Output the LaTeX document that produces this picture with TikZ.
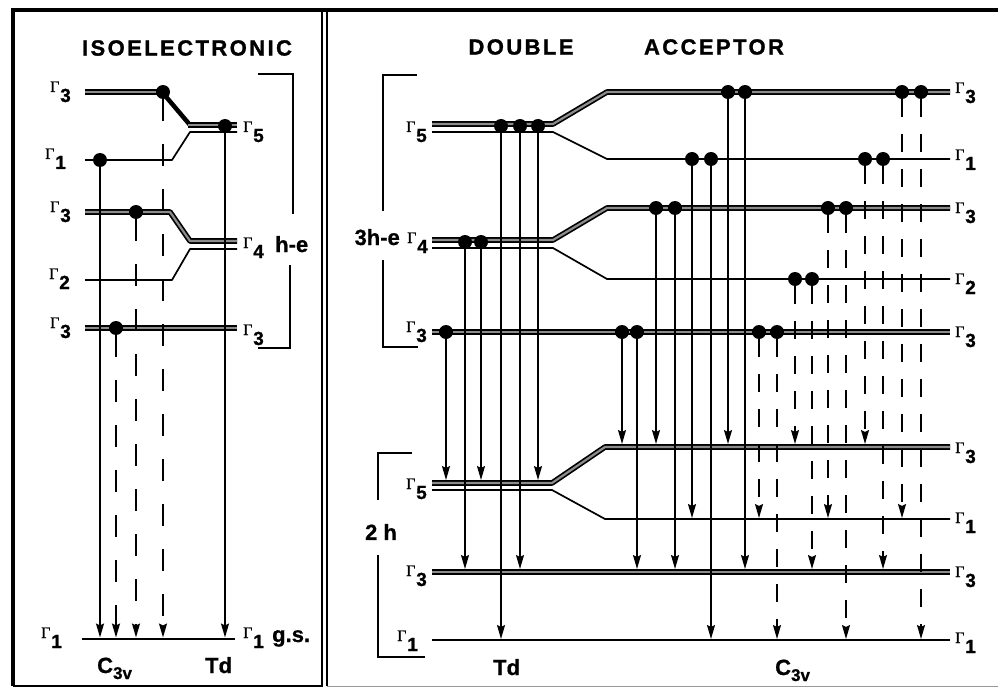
\documentclass[tikz,border=0pt]{standalone}
\usepackage{fontspec}
\setmainfont{Liberation Sans}
\newfontfamily\gfont[FakeBold=0.5]{Liberation Serif}
\newfontfamily\ttlfont[LetterSpace=11,FakeBold=1.2]{Liberation Sans Bold}
\newfontfamily\bfont[FakeBold=0.8]{Liberation Sans Bold}
\usetikzlibrary{arrows.meta}
\newcommand\G[1]{{\gfont\mdseries\fontsize{16}{16}\selectfont Γ}\kern0.8pt\raisebox{-10pt}{\bfont\fontsize{19}{19}\selectfont #1}}
\newcommand\Cthv{C\raisebox{-6pt}{\fontsize{17}{17}\selectfont 3v}}
\tikzset{
  lvl/.style={line width=1.7pt, line join=round},
  dlvl/.style={line width=1.7pt, double=black!45, double distance=2.2pt, line join=round},
  tr/.style={line width=1.5pt, -{Stealth[length=14pt,width=8pt,inset=2pt]}},
  dtrL/.style={tr, dash pattern=on 22pt off 23pt},
  dtrR/.style={tr, dash pattern=on 18pt off 17pt},
  dot/.style={circle, fill, inner sep=0pt, minimum size=14pt},
  labL/.style={inner sep=0pt, anchor=base east},
  labR/.style={inner sep=0pt, anchor=base west},
  txt/.style={inner sep=0pt, font=\bfont\fontsize{22}{22}\selectfont},
  ttl/.style={inner sep=0pt, font=\ttlfont\fontsize{22}{22}\selectfont},
  frame/.style={line width=4pt},
  brk/.style={line width=1.9pt},
}
\begin{document}
\begin{tikzpicture}[x=1pt,y=-1pt]
\useasboundingbox (0,0) rectangle (998,687);
% ---------- frame ----------
\draw[frame] (11,10) -- (998,10);
\draw[frame] (13,8) -- (13,686);
\draw[line width=2pt] (13,685.5) -- (323,685.5);
\draw[line width=1.6pt] (322,10) -- (322,686);
\draw[line width=1.8pt] (327,10) -- (327,686);
\draw[line width=1pt, black!40] (327,686) -- (998,686);
% ---------- titles ----------
\node[ttl] (t1) at (187,48) {ISOELECTRONIC};
\node[ttl] (t2) at (521,47) {DOUBLE};
\node[ttl] (t3) at (714,47) {ACCEPTOR};
% ---------- left panel levels ----------
\draw[dlvl] (85,92) -- (163,92);
\draw[line width=4.5pt, line join=round] (162,92) -- (190,125);
\draw[dlvl] (188,125) -- (237,125);
\draw[lvl] (85,160) -- (172,160) -- (190,132) -- (237,132);
\draw[dlvl] (85,212) -- (170,212) -- (190,241) -- (237,241);
\draw[lvl] (85,280) -- (172,280) -- (190,249) -- (237,249);
\draw[dlvl] (85,328) -- (237,328);
\draw[lvl] (82,639) -- (235,639);
\coordinate (lG) at (0,637.5);
% bracket
\draw[brk] (258,74) -- (293,74) -- (293,214);
\draw[brk] (290,265) -- (290,348) -- (258,348);
% left labels
\node[labL] (l1) at (71,92) {\G{3}};
\node[labL] (l2) at (66,159) {\G{1}};
\node[labL] (l3) at (71,212) {\G{3}};
\node[labL] (l4) at (70,279) {\G{2}};
\node[labL] (l5) at (71,328) {\G{3}};
\node[labL] (l6) at (62,638) {\G{1}};
\node[labR] (l7) at (243,132) {\G{5}};
\node[labR] (l8) at (243,248) {\G{4}};
\node[txt, anchor=base west] (he1) at (275,252) {h-e};
\node[labR] (l9) at (243,335) {\G{3}};
\node[labR] (l10) at (243,638) {\G{1}};
\node[txt, anchor=base west] (gs) at (272,642) {g.s.};
\node[txt, anchor=base west] (c3vL) at (97,673) {\Cthv};
\node[txt, anchor=base west] (tdL) at (205,673) {Td};
% left dots
\node[dot] (e1) at (100,160) {};
\node[dot] (e2) at (116,328) {};
\node[dot] (e3) at (136,212) {};
\node[dot] (e4) at (163,92) {};
\node[dot] (e5) at (225,126) {};
\draw[tr] (e1) -- (e1 |- lG);
\draw[dtrL] (e2) -- (e2 |- lG);
\draw[dtrL] (e3) -- (e3 |- lG);
\draw[dtrL] (e4) -- (e4 |- lG);
\draw[tr] (e5) -- (e5 |- lG);
% ---------- right panel levels ----------
\draw[dlvl] (432,124) -- (553,124) -- (607,92) -- (950,92);
\draw[lvl] (432,132) -- (553,132) -- (607,159) -- (950,159);
\draw[dlvl] (432,240) -- (553,240) -- (607,208) -- (950,208);
\draw[lvl] (432,248) -- (553,248) -- (607,279) -- (950,279);
\draw[dlvl] (432,332) -- (950,332);
\draw[dlvl] (432,483) -- (552,483) -- (605,447) -- (950,447);
\draw[lvl] (432,490) -- (552,490) -- (605,519) -- (950,519);
\draw[dlvl] (432,572) -- (950,572);
\draw[lvl] (432,640) -- (950,640);
\coordinate (r5) at (0,480);
\coordinate (rU) at (0,444);
\coordinate (r1) at (0,518);
\coordinate (rL) at (0,569);
\coordinate (rG) at (0,639);
% brackets
\draw[brk] (417,75) -- (383,75) -- (383,211);
\draw[brk] (383,260) -- (383,347) -- (418,347);
\draw[brk] (412,453) -- (378,453) -- (378,500);
\draw[brk] (378,555) -- (378,657) -- (425,657);
% right panel labels
\node[labL] (m1) at (427,132) {\G{5}};
\node[labL] (m2) at (428,243) {\G{4}};
\node[txt, anchor=base east] (he3) at (400,245) {3h-e};
\node[labL] (m3) at (427,332) {\G{3}};
\node[labL] (m4) at (427,489) {\G{5}};
\node[txt] (twoh) at (381,532) {2 h};
\node[labL] (m5) at (427,576) {\G{3}};
\node[labL] (m6) at (418,641) {\G{1}};
\node[labR] (n1) at (955,93) {\G{3}};
\node[labR] (n2) at (955,160) {\G{1}};
\node[labR] (n3) at (955,213) {\G{3}};
\node[labR] (n4) at (955,284) {\G{2}};
\node[labR] (n5) at (955,337) {\G{3}};
\node[labR] (n6) at (955,453) {\G{3}};
\node[labR] (n7) at (955,523) {\G{1}};
\node[labR] (n8) at (955,577) {\G{3}};
\node[labR] (n9) at (955,643) {\G{1}};
\node[txt, anchor=base west] (tdR) at (493,675) {Td};
\node[txt, anchor=base west] (c3vR) at (775,675) {\Cthv};
% Td dots
\node[dot] (a1) at (446,332) {};
\node[dot] (a2) at (465,242) {};
\node[dot] (a3) at (481,242) {};
\node[dot] (a4) at (501,126) {};
\node[dot] (a5) at (520,126) {};
\node[dot] (a6) at (538,126) {};
% C3v dots, solid
\node[dot] (b1) at (622,332) {};
\node[dot] (b2) at (637,332) {};
\node[dot] (b3) at (656,208) {};
\node[dot] (b4) at (675,208) {};
\node[dot] (b5) at (692,159) {};
\node[dot] (b6) at (711,159) {};
\node[dot] (b7) at (728,92) {};
\node[dot] (b8) at (745,92) {};
% C3v dots, dashed
\node[dot] (c1) at (759,332) {};
\node[dot] (c2) at (777,332) {};
\node[dot] (c3) at (795,279) {};
\node[dot] (c4) at (812,279) {};
\node[dot] (c5) at (828,208) {};
\node[dot] (c6) at (846,208) {};
\node[dot] (c7) at (865,159) {};
\node[dot] (c8) at (883,159) {};
\node[dot] (c9) at (902,92) {};
\node[dot] (c10) at (921,92) {};
% transitions
\draw[tr] (a1) -- (a1 |- r5);
\draw[tr] (a2) -- (a2 |- rL);
\draw[tr] (a3) -- (a3 |- r5);
\draw[tr] (a4) -- (a4 |- rG);
\draw[tr] (a5) -- (a5 |- rL);
\draw[tr] (a6) -- (a6 |- r5);
\draw[tr] (b1) -- (b1 |- rU);
\draw[tr] (b2) -- (b2 |- rL);
\draw[tr] (b3) -- (b3 |- rU);
\draw[tr] (b4) -- (b4 |- rL);
\draw[tr] (b5) -- (b5 |- r1);
\draw[tr] (b6) -- (b6 |- rG);
\draw[tr] (b7) -- (b7 |- rU);
\draw[tr] (b8) -- (b8 |- rL);
\draw[dtrR] (c1) -- (c1 |- r1);
\draw[dtrR] (c2) -- (c2 |- rG);
\draw[dtrR] (c3) -- (c3 |- rU);
\draw[dtrR] (c4) -- (c4 |- rL);
\draw[dtrR] (c5) -- (c5 |- r1);
\draw[dtrR] (c6) -- (c6 |- rG);
\draw[dtrR] (c7) -- (c7 |- rU);
\draw[dtrR] (c8) -- (c8 |- rL);
\draw[dtrR] (c9) -- (c9 |- r1);
\draw[dtrR] (c10) -- (c10 |- rG);
\end{tikzpicture}
\end{document}
